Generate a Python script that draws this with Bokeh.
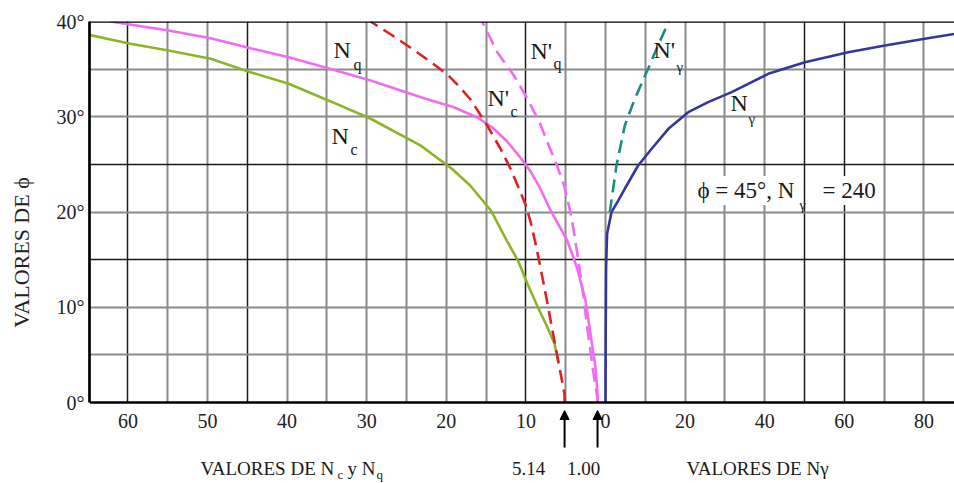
import math
from bokeh.plotting import figure
from bokeh.models import (Range1d, LinearAxis, FixedTicker, Grid, Span, Label,
                          Arrow, NormalHead)
from bokeh.core.properties import value
from bokeh.embed import file_html
from bokeh.resources import INLINE

# ---------------- data ----------------
# N_c (solid green)
PHI_NC = [4.06, 6.16, 7.9, 10.0, 12.46, 14.9, 17.0, 20.16, 22.78, 24.54, 26.97,
          29.79, 31.53, 33.46, 34.68, 36.08, 36.96, 37.66, 38.6]
NC = [5.9, 6.4, 7.3, 8.5, 9.8, 11.0, 12.4, 14.4, 17.0, 19.3, 23.2,
      29.5, 34.3, 39.8, 44.6, 49.6, 54.9, 59.7, 64.9]
# N_q (solid magenta)
PHI_NQ = [0.0, 0.56, 3.7, 7.24, 10.7, 14.2, 17.0, 20.16, 22.47, 24.25, 25.72,
          27.4, 28.87, 29.92, 31.0, 31.88, 33.8, 34.96, 36.25, 37.2, 38.25,
          39.06, 40.0]
NQ = [1.0, 0.97, 1.26, 1.9, 2.5, 3.6, 4.8, 6.9, 8.2, 9.4, 10.7,
      12.35, 14.2, 16.1, 19.06, 22.6, 29.5, 34.3, 39.8, 44.6, 49.6,
      54.9, 62.2]
# N'_c (dashed red)
PHI_NC2 = [0.0, 0.91, 4.2, 7.56, 10.92, 14.17, 16.69, 19.0, 20.79, 22.08,
           24.54, 26.64, 29.08, 31.81, 33.02, 34.33, 35.54, 37.01, 38.53, 40.0]
NC2 = [5.14, 5.15, 5.9, 6.66, 7.41, 8.17, 8.79, 9.42, 10.05, 10.68,
       11.93, 13.19, 14.86, 16.96, 18.22, 19.72, 21.61, 24.08, 26.76, 29.52]
# N'_q (dashed magenta)
PHI_NQ2 = [0.0, 0.56, 3.01, 5.46, 7.9, 10.71, 13.15, 15.96, 19.11, 20.68,
           22.78, 24.88, 27.33, 29.42, 31.88, 34.33, 36.78, 40.0]
NQ2 = [1.0, 1.04, 1.5, 1.9, 2.3, 2.7, 3.1, 3.6, 4.2, 4.6,
       5.2, 6.1, 7.3, 8.3, 9.8, 11.5, 13.6, 15.5]
# N_gamma (solid navy)
PHI_NG = [0.0, 7.24, 14.2, 17.71, 19.98, 21.2, 22.44, 24.88, 26.64, 28.73,
          30.48, 31.53, 32.58, 34.51, 35.73, 36.78, 37.48, 38.18, 38.71]
NG = [0.0, 0.05, 0.15, 0.4, 1.5, 3.2, 4.85, 8.2, 11.6, 15.8,
      20.8, 25.8, 31.7, 40.9, 50.1, 61.0, 70.2, 80.2, 87.8]
# N'_gamma (dashed teal)
PHI_NG2 = [19.98, 24.88, 29.08, 31.88, 35.03, 37.48, 40.0]
NG2 = [1.08, 2.76, 4.85, 7.36, 10.7, 13.2, 15.9]

NCQ_TICKS = [60, 50, 40, 30, 20, 10]
NG_TICKS = [0, 20, 40, 60, 80]
PHI_TICKS = [0, 10, 20, 30, 40]
ARROW_VALUES = [5.14, 1.00]

# ---------------- layout (page pixels == figure pixels) ----------------
W, H = 954, 483
BL, BT = 89, 21
FRAME_W = W - BL
FRAME_H = H - BT
Y0_PX = 402           # page y of phi = 0
PX_DEG = 9.525        # px per degree
ZERO_X = 605          # page x where N = 0
PX_N = 7.96           # px per unit of Nc / Nq
PX_G = 3.98           # px per unit of N gamma
X_START = (ZERO_X - BL) / PX_N
X_END = (ZERO_X - W) / PX_N
G_START = -(ZERO_X - BL) / PX_G
G_END = (W - ZERO_X) / PX_G
Y_START = -(H - Y0_PX) / PX_DEG
Y_END = (Y0_PX - BT) / PX_DEG

FONT = "Liberation Serif"

p = figure(width=W, height=H, x_range=Range1d(X_START, X_END),
           y_range=Range1d(Y_START, Y_END), output_backend="svg",
           toolbar_location=None, x_axis_type=None, y_axis_type=None,
           min_border_left=BL, min_border_right=0, min_border_top=BT,
           min_border_bottom=0)
p.extra_x_ranges = {"ng": Range1d(G_START, G_END)}
p.outline_line_color = None
p.background_fill_color = "white"
p.border_fill_color = "white"


def page_to_data(px, py):
    x = X_START + (px - BL) / FRAME_W * (X_END - X_START)
    y = Y_END - (py - BT) / FRAME_H * (Y_END - Y_START)
    return x, y


# ---------------- grid ----------------
GRAY = "#8a8a8a"
DARK = "#1a1a1a"
grid_specs = [
    (0, None, [55, 50, 40, 35, 30, 25, 20, 15, 5], GRAY, 2),
    (0, None, [60, 45, 10], DARK, 1.5),
    (0, "ng", [0, 10, 20, 30, 40, 70, 80], GRAY, 2),
    (0, "ng", [50, 60], DARK, 1.5),
    (1, None, [5, 10, 20, 30, 35], GRAY, 2),
    (1, None, [15, 25], DARK, 1.5),
]
for dim, rng, ticks, col, lw in grid_specs:
    kw = dict(dimension=dim, ticker=FixedTicker(ticks=ticks),
              grid_line_color=col, grid_line_width=lw)
    if rng:
        kw["x_range_name"] = rng
    if dim == 0:
        kw["cross_bounds"] = (0, 40)
    p.add_layout(Grid(**kw))

p.add_layout(Span(location=40, dimension="width", line_color="black",
                  line_width=2.5))
p.add_layout(Span(location=0, dimension="width", line_color="black",
                  line_width=2.7))

# ---------------- y axis ----------------
yaxis = LinearAxis(ticker=FixedTicker(ticks=PHI_TICKS),
                   major_label_overrides={t: f"{t}°" for t in PHI_TICKS},
                   bounds=(0, 40))
yaxis.major_tick_in = 0
yaxis.major_tick_out = 0
yaxis.minor_tick_in = 0
yaxis.minor_tick_out = 0
yaxis.axis_line_color = "black"
yaxis.axis_line_width = 2.7
yaxis.major_label_standoff = 5
yaxis.major_label_text_font = FONT
yaxis.major_label_text_font_size = "20px"
yaxis.major_label_text_color = "#222222"
p.add_layout(yaxis, "left")

# title of the phi axis: a bare axis (no line, ticks or labels) whose
# extent is centred where the title sits in the original
_, title_lo = page_to_data(0, 323)
_, title_hi = page_to_data(0, 165)
ytitle = LinearAxis(ticker=FixedTicker(ticks=[]), bounds=(title_lo, title_hi),
                    axis_label="VALORES DE ϕ", axis_label_standoff=20,
                    axis_label_text_font=FONT,
                    axis_label_text_font_size="22px",
                    axis_label_text_font_style="normal",
                    axis_label_text_color="#222222",
                    axis_line_color=None, major_tick_in=0, major_tick_out=0,
                    minor_tick_in=0, minor_tick_out=0,
                    major_label_text_font_size="0px")
p.add_layout(ytitle, "left")

# ---------------- x tick labels ----------------
_, y_ticklab = page_to_data(0, 420)
p.text(x=NCQ_TICKS, y=[y_ticklab] * len(NCQ_TICKS),
       text=[str(t) for t in NCQ_TICKS], text_font=value(FONT),
       text_font_size=value("20px"), text_align="center",
       text_baseline="middle", text_color="#222222")
p.text(x=NG_TICKS, y=[y_ticklab] * len(NG_TICKS),
       text=[str(t) for t in NG_TICKS], x_range_name="ng",
       text_font=value(FONT), text_font_size=value("20px"),
       text_align="center", text_baseline="middle", text_color="#222222")

# ---------------- curves ----------------
p.line(NC, PHI_NC, line_color="#8db32b", line_width=2.6)
p.line(NQ, PHI_NQ, line_color="#f06cf0", line_width=2.6)
p.line(NC2, PHI_NC2, line_color="#dc2222", line_width=2.6, line_dash="13 7")
p.line(NQ2, PHI_NQ2, line_color="#f06cf0", line_width=2.6, line_dash="14 7")
p.line(NG, PHI_NG, x_range_name="ng", line_color="#35369b", line_width=2.6)
p.line(NG2, PHI_NG2, x_range_name="ng", line_color="#1f8a80", line_width=2.6,
       line_dash="13 7")


# ---------------- texts ----------------
def put(text, px, py, size, align="left", bg=None):
    x, y = page_to_data(px, py)
    kw = dict(x=x, y=y, text=text, text_font=FONT, text_font_size=f"{size}px",
              text_baseline="middle", text_align=align, text_color="#1a1a1a")
    if bg:
        kw.update(background_fill_color=bg, padding=2)
    p.add_layout(Label(**kw))


# curve labels
put("N", 333, 49, 24); put("q", 353, 64, 16)
put("N'", 487, 97, 24); put("c", 510, 111, 16)
put("N", 331, 135, 24); put("c", 350, 149, 16)
put("N'", 530, 50, 24); put("q", 553, 63, 16)
put("N'", 653, 49, 24); put("γ", 676, 66, 15)
put("N", 730, 102, 24); put("γ", 748, 118, 15)
put("ϕ = 45°, N", 695, 190, 23, bg="white")
put("γ", 799, 205, 14)
put("= 240", 820, 190, 23, bg="white")

# bottom titles
put("VALORES DE N", 200, 468, 19); put("c", 337, 474, 13)
put("y N", 347, 468, 19); put("q", 376, 474, 13)
put("VALORES DE Nγ", 757, 468, 19, align="center")

# arrows at the phi = 0 values
_, y_tail = page_to_data(0, 447)
_, y_head = page_to_data(0, 410)
label_px = [528, 583]
for v, lx in zip(ARROW_VALUES, label_px):
    p.add_layout(Arrow(end=NormalHead(size=9, fill_color="black",
                                      line_color="black"),
                       x_start=v, x_end=v, y_start=y_tail, y_end=y_head,
                       line_color="black", line_width=2))
    put(f"{v:.2f}", lx, 468, 19, align="center")

open("out.html", "w").write(file_html(p, INLINE))
